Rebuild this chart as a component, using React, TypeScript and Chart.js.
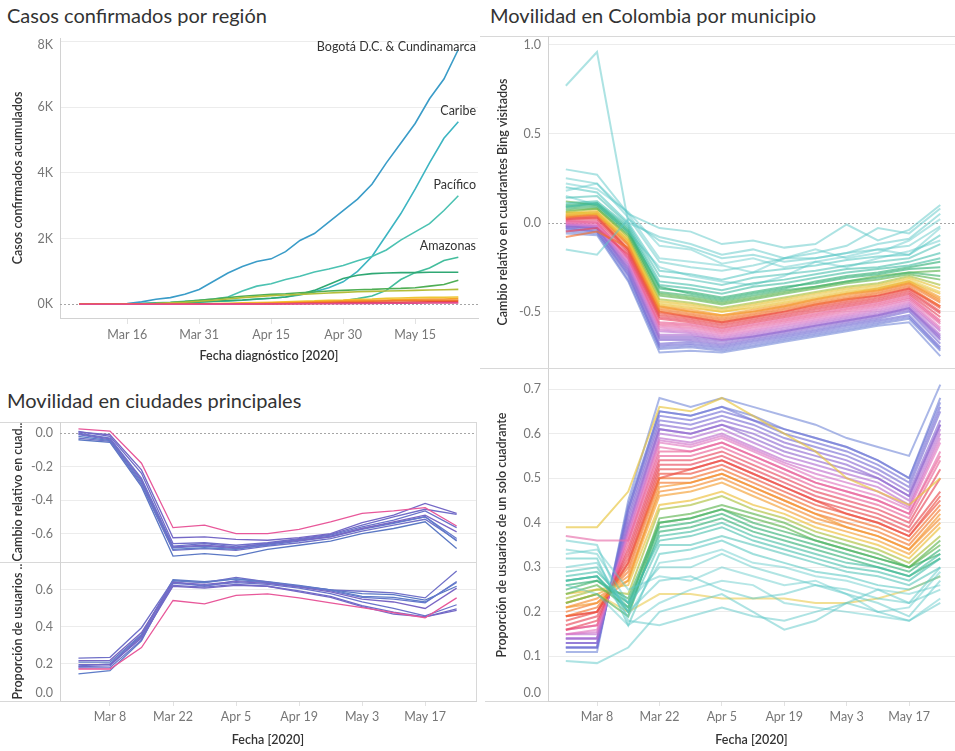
import React, { useEffect, useRef } from "react";
import { Chart, registerables } from "chart.js";

Chart.register(...registerables);

const FONT = "Lato, 'Open Sans', 'DejaVu Sans', sans-serif";

// ---------- Day index: 0 = 1 Mar 2020 ----------
const casosDias = [5, 10, 15, 18, 21, 24, 27, 30, 33, 36, 39, 42, 45, 48, 51, 54, 57, 60, 63, 66, 69, 72, 75, 78, 81, 84];
const casosTicks = [15, 30, 45, 60, 75];
const casosYTicks = [0, 2000, 4000, 6000, 8000];

// cumulative confirmed cases per region
const bogota = [0, 5, 20, 70, 150, 200, 300, 450, 700, 950, 1150, 1300, 1380, 1600, 1940, 2150, 2500, 2850, 3200, 3650, 4300, 4900, 5500, 6250, 6850, 7750];
const caribe = [0, 0, 10, 20, 30, 40, 50, 60, 80, 100, 120, 150, 180, 220, 280, 380, 500, 680, 1000, 1450, 2100, 2750, 3500, 4300, 5050, 5550];
const pacifico = [0, 0, 10, 20, 40, 60, 90, 120, 160, 220, 400, 550, 620, 750, 850, 980, 1070, 1180, 1320, 1450, 1650, 1950, 2200, 2450, 2850, 3300];
const amazonas = [0, 0, 0, 0, 0, 0, 0, 5, 8, 10, 12, 15, 20, 30, 40, 60, 80, 100, 170, 250, 420, 750, 960, 1100, 1330, 1430];
const antioquia = [0, 0, 5, 10, 20, 30, 50, 70, 90, 110, 130, 160, 180, 220, 300, 420, 600, 780, 880, 930, 950, 960, 960, 970, 970, 970];
const santanderes = [0, 0, 5, 10, 30, 50, 80, 120, 160, 200, 240, 270, 300, 320, 350, 370, 400, 420, 440, 450, 470, 480, 500, 550, 600, 730];
const ejeCafetero = [0, 0, 5, 10, 20, 40, 60, 90, 120, 160, 200, 230, 260, 280, 300, 320, 340, 360, 380, 390, 400, 410, 420, 430, 440, 450];
const centroSur = [0, 0, 0, 0, 5, 8, 10, 15, 20, 30, 40, 50, 60, 75, 90, 100, 120, 130, 150, 160, 180, 190, 200, 210, 210, 220];
const llanos = [0, 0, 0, 0, 0, 3, 5, 8, 10, 15, 20, 30, 40, 50, 60, 75, 90, 100, 110, 120, 130, 140, 150, 160, 160, 170];
const tolimaHuila = [0, 0, 0, 0, 0, 0, 2, 4, 6, 8, 10, 15, 20, 30, 40, 50, 60, 70, 80, 90, 100, 105, 110, 115, 120, 120];
const boyaca = [0, 0, 0, 0, 0, 0, 0, 2, 3, 4, 5, 8, 10, 15, 20, 25, 30, 40, 45, 50, 55, 60, 65, 70, 75, 80];
const orinoquia = [0, 0, 0, 0, 0, 0, 0, 0, 1, 2, 3, 4, 5, 7, 10, 12, 15, 18, 20, 25, 28, 30, 33, 36, 40, 40];

const regionNombres = ["Orinoquía", "Boyacá", "Tolima & Huila", "Llanos", "Centro Sur", "Eje Cafetero", "Santanderes", "Antioquia", "Amazonas", "Pacífico", "Caribe", "Bogotá D.C. & Cundinamarca"];
const regionValores = [orinoquia, boyaca, tolimaHuila, llanos, centroSur, ejeCafetero, santanderes, antioquia, amazonas, pacifico, caribe, bogota];
const regionColores = ["#E24B8C", "#E84B3C", "#F27A2C", "#F6A524", "#EEC633", "#B3BD3A", "#4FAE55", "#2FA874", "#43BD9C", "#4CC2B2", "#3DB5C2", "#3A9CC8"];
const regionEtiquetadas = ["Amazonas", "Pacífico", "Caribe", "Bogotá D.C. & Cundinamarca"];

// ---------- Weekly mobility (Bing) ----------
const semanas = [0, 7, 14, 21, 28, 35, 42, 49, 56, 63, 70, 77, 84];
const semanaTicks = [7, 21, 35, 49, 63, 77];

const ciudadesNombre = ["Cartagena", "Barranquilla", "Santa Marta", "Cúcuta", "Bucaramanga", "Pereira", "Medellín", "Cali", "Bogotá"];
const ciudadesColor = ["#E8589A", "#7468C6", "#6F6CC8", "#6A72CA", "#7A66C4", "#6578CC", "#5E7CC8", "#7070C8", "#5B78C4"];
const ciudadesCambio = [
  [0.025, 0.012, -0.18, -0.565, -0.55, -0.6, -0.6, -0.575, -0.53, -0.48, -0.465, -0.445, -0.555],
  [0.005, -0.01, -0.22, -0.625, -0.62, -0.635, -0.64, -0.625, -0.6, -0.535, -0.49, -0.42, -0.48],
  [0.01, -0.02, -0.24, -0.66, -0.655, -0.67, -0.655, -0.63, -0.605, -0.55, -0.5, -0.455, -0.485],
  [0.0, -0.03, -0.27, -0.675, -0.66, -0.68, -0.66, -0.635, -0.61, -0.56, -0.52, -0.465, -0.565],
  [-0.005, -0.035, -0.28, -0.68, -0.67, -0.685, -0.66, -0.64, -0.62, -0.57, -0.53, -0.49, -0.59],
  [-0.01, -0.04, -0.29, -0.685, -0.675, -0.69, -0.67, -0.645, -0.62, -0.575, -0.54, -0.5, -0.63],
  [-0.02, -0.045, -0.3, -0.695, -0.685, -0.695, -0.665, -0.64, -0.615, -0.57, -0.535, -0.5, -0.645],
  [-0.03, -0.05, -0.31, -0.7, -0.69, -0.7, -0.675, -0.655, -0.63, -0.585, -0.55, -0.515, -0.64],
  [-0.04, -0.055, -0.32, -0.735, -0.72, -0.735, -0.695, -0.67, -0.645, -0.6, -0.57, -0.53, -0.69],
];
const ciudadesProporcion = [
  [0.173, 0.173, 0.289, 0.543, 0.525, 0.571, 0.579, 0.557, 0.53, 0.504, 0.477, 0.45, 0.557],
  [0.196, 0.196, 0.34, 0.62, 0.61, 0.625, 0.62, 0.59, 0.56, 0.51, 0.47, 0.455, 0.49],
  [0.186, 0.19, 0.35, 0.625, 0.615, 0.63, 0.62, 0.595, 0.565, 0.515, 0.48, 0.455, 0.498],
  [0.179, 0.18, 0.33, 0.635, 0.625, 0.64, 0.63, 0.61, 0.58, 0.535, 0.5, 0.46, 0.52],
  [0.218, 0.22, 0.37, 0.64, 0.63, 0.645, 0.635, 0.615, 0.59, 0.55, 0.535, 0.5, 0.61],
  [0.19, 0.2, 0.355, 0.645, 0.62, 0.65, 0.64, 0.62, 0.595, 0.56, 0.55, 0.53, 0.646],
  [0.146, 0.164, 0.325, 0.65, 0.64, 0.66, 0.64, 0.62, 0.6, 0.565, 0.56, 0.535, 0.64],
  [0.232, 0.236, 0.396, 0.65, 0.64, 0.668, 0.643, 0.62, 0.6, 0.593, 0.584, 0.557, 0.703],
  [0.21, 0.21, 0.36, 0.655, 0.645, 0.66, 0.645, 0.625, 0.6, 0.58, 0.575, 0.545, 0.62],
];

// representative municipalities (teal -> purple)
const municipiosColor = [
  "rgba(92,200,200,0.5)", "rgba(92,200,200,0.5)", "rgba(92,200,200,0.5)", "rgba(92,200,200,0.45)", "rgba(92,200,200,0.45)",
  "rgba(80,196,192,0.45)", "rgba(80,196,192,0.55)", "rgba(72,192,180,0.55)", "rgba(68,190,172,0.6)", "rgba(64,186,160,0.6)",
  "rgba(92,200,200,0.45)", "rgba(56,178,122,0.65)", "rgba(56,178,122,0.65)", "rgba(70,180,110,0.65)", "rgba(96,182,82,0.65)",
  "rgba(96,182,82,0.65)", "rgba(172,192,62,0.65)",
  "rgba(232,196,60,0.65)", "rgba(232,196,60,0.55)", "rgba(236,190,56,0.65)",
  "rgba(245,160,52,0.65)", "rgba(245,150,48,0.65)", "rgba(244,140,48,0.65)", "rgba(242,122,46,0.65)", "rgba(242,112,46,0.65)",
  "rgba(236,82,64,0.65)", "rgba(236,78,68,0.65)", "rgba(234,74,76,0.65)", "rgba(232,72,90,0.65)", "rgba(232,72,96,0.65)",
  "rgba(234,98,150,0.65)", "rgba(234,98,150,0.65)", "rgba(230,110,170,0.65)", "rgba(226,122,192,0.65)", "rgba(210,116,200,0.65)",
  "rgba(192,112,206,0.65)", "rgba(176,112,210,0.65)", "rgba(148,108,208,0.65)", "rgba(144,108,210,0.65)", "rgba(140,108,210,0.65)",
  "rgba(124,112,212,0.65)", "rgba(118,114,214,0.65)", "rgba(112,118,214,0.6)", "rgba(106,122,212,0.6)", "rgba(100,124,212,0.55)",
];
const municipiosCambio = [
  [0.77, 0.96, 0.0, -0.08, -0.12, -0.18, -0.15, -0.2, -0.17, -0.13, -0.03, -0.06, 0.08],
  [0.3, 0.27, 0.05, -0.03, -0.05, -0.12, -0.1, -0.14, -0.12, -0.01, -0.1, -0.04, 0.1],
  [-0.15, -0.18, 0.02, -0.1, -0.14, -0.2, -0.18, -0.22, -0.2, -0.17, -0.12, -0.09, 0.05],
  [0.18, 0.22, 0.05, -0.2, -0.22, -0.24, -0.28, -0.2, -0.15, -0.2, -0.17, -0.1, 0.02],
  [0.22, 0.19, 0.06, -0.13, -0.15, -0.23, -0.2, -0.25, -0.22, -0.19, -0.15, -0.18, -0.03],
  [0.25, 0.22, 0.03, -0.22, -0.25, -0.27, -0.24, -0.2, -0.2, -0.17, -0.15, -0.13, -0.02],
  [0.2, 0.17, 0.0, -0.27, -0.29, -0.32, -0.28, -0.26, -0.24, -0.21, -0.19, -0.18, -0.07],
  [0.14, 0.15, -0.01, -0.3, -0.32, -0.35, -0.31, -0.29, -0.27, -0.24, -0.22, -0.2, -0.12],
  [0.11, 0.12, -0.02, -0.33, -0.35, -0.38, -0.34, -0.32, -0.29, -0.26, -0.25, -0.22, -0.17],
  [0.09, 0.11, -0.03, -0.35, -0.37, -0.4, -0.36, -0.34, -0.31, -0.28, -0.26, -0.24, -0.2],
  [0.15, 0.1, -0.05, -0.25, -0.3, -0.33, -0.35, -0.3, -0.22, -0.25, -0.2, -0.16, -0.1],
  [0.1, 0.11, -0.04, -0.37, -0.39, -0.42, -0.39, -0.36, -0.34, -0.31, -0.29, -0.26, -0.25],
  [0.09, 0.1, -0.05, -0.36, -0.4, -0.43, -0.4, -0.37, -0.33, -0.3, -0.28, -0.25, -0.22],
  [0.08, 0.09, -0.06, -0.39, -0.41, -0.44, -0.41, -0.38, -0.36, -0.33, -0.31, -0.28, -0.3],
  [0.07, 0.08, -0.07, -0.41, -0.43, -0.46, -0.43, -0.4, -0.37, -0.34, -0.32, -0.29, -0.32],
  [0.12, 0.1, -0.05, -0.4, -0.42, -0.45, -0.42, -0.39, -0.36, -0.33, -0.3, -0.28, -0.27],
  [0.06, 0.08, -0.08, -0.43, -0.45, -0.48, -0.45, -0.42, -0.39, -0.36, -0.34, -0.3, -0.35],
  [0.05, 0.07, -0.09, -0.44, -0.46, -0.49, -0.46, -0.43, -0.4, -0.37, -0.35, -0.31, -0.37],
  [0.04, 0.06, -0.1, -0.45, -0.47, -0.5, -0.47, -0.44, -0.41, -0.38, -0.36, -0.32, -0.39],
  [0.06, 0.05, -0.1, -0.46, -0.48, -0.5, -0.48, -0.45, -0.42, -0.39, -0.37, -0.33, -0.4],
  [0.05, 0.06, -0.11, -0.47, -0.49, -0.52, -0.49, -0.46, -0.43, -0.4, -0.37, -0.33, -0.42],
  [0.04, 0.05, -0.12, -0.47, -0.5, -0.52, -0.5, -0.47, -0.43, -0.4, -0.38, -0.34, -0.43],
  [0.03, 0.05, -0.12, -0.48, -0.5, -0.53, -0.5, -0.47, -0.44, -0.41, -0.38, -0.34, -0.44],
  [0.04, 0.04, -0.13, -0.49, -0.51, -0.54, -0.51, -0.48, -0.45, -0.42, -0.39, -0.35, -0.45],
  [-0.08, -0.05, -0.14, -0.5, -0.52, -0.55, -0.52, -0.49, -0.46, -0.43, -0.4, -0.36, -0.47],
  [0.03, 0.03, -0.15, -0.51, -0.53, -0.56, -0.53, -0.5, -0.47, -0.44, -0.41, -0.37, -0.48],
  [0.03, 0.04, -0.15, -0.5, -0.53, -0.56, -0.53, -0.5, -0.46, -0.43, -0.41, -0.37, -0.47],
  [0.02, 0.03, -0.16, -0.52, -0.54, -0.57, -0.54, -0.51, -0.48, -0.45, -0.42, -0.38, -0.5],
  [0.02, 0.02, -0.17, -0.53, -0.55, -0.58, -0.55, -0.52, -0.49, -0.46, -0.43, -0.39, -0.51],
  [-0.05, -0.03, -0.18, -0.54, -0.56, -0.59, -0.56, -0.53, -0.5, -0.47, -0.44, -0.4, -0.53],
  [0.01, 0.01, -0.19, -0.56, -0.57, -0.6, -0.57, -0.54, -0.51, -0.48, -0.45, -0.41, -0.55],
  [0.01, 0.0, -0.2, -0.57, -0.58, -0.61, -0.58, -0.55, -0.52, -0.49, -0.46, -0.42, -0.56],
  [0.0, 0.0, -0.2, -0.58, -0.59, -0.62, -0.59, -0.56, -0.53, -0.5, -0.47, -0.43, -0.57],
  [0.0, -0.01, -0.21, -0.59, -0.6, -0.63, -0.6, -0.57, -0.54, -0.51, -0.48, -0.44, -0.59],
  [-0.005, -0.015, -0.22, -0.6, -0.61, -0.64, -0.61, -0.58, -0.55, -0.52, -0.49, -0.45, -0.6],
  [-0.01, -0.02, -0.23, -0.61, -0.62, -0.65, -0.62, -0.59, -0.56, -0.53, -0.5, -0.46, -0.61],
  [-0.01, -0.02, -0.24, -0.63, -0.63, -0.66, -0.63, -0.6, -0.57, -0.54, -0.51, -0.47, -0.63],
  [-0.02, -0.03, -0.25, -0.64, -0.64, -0.66, -0.64, -0.61, -0.58, -0.55, -0.52, -0.48, -0.65],
  [-0.02, -0.03, -0.26, -0.65, -0.65, -0.67, -0.64, -0.61, -0.58, -0.55, -0.52, -0.48, -0.64],
  [-0.02, -0.03, -0.27, -0.66, -0.66, -0.68, -0.65, -0.62, -0.59, -0.56, -0.53, -0.49, -0.66],
  [-0.03, -0.04, -0.28, -0.68, -0.67, -0.69, -0.66, -0.63, -0.6, -0.57, -0.54, -0.5, -0.68],
  [-0.04, -0.05, -0.3, -0.69, -0.68, -0.7, -0.67, -0.64, -0.61, -0.58, -0.55, -0.52, -0.7],
  [-0.03, -0.05, -0.29, -0.7, -0.69, -0.71, -0.68, -0.65, -0.62, -0.59, -0.56, -0.53, -0.71],
  [-0.05, -0.06, -0.32, -0.71, -0.7, -0.72, -0.69, -0.66, -0.63, -0.6, -0.57, -0.54, -0.72],
  [-0.06, -0.07, -0.33, -0.73, -0.72, -0.73, -0.7, -0.67, -0.64, -0.61, -0.58, -0.56, -0.75],
];
const municipiosProporcion = [
  [0.09, 0.085, 0.12, 0.2, 0.22, 0.24, 0.2, 0.16, 0.18, 0.22, 0.2, 0.18, 0.22],
  [0.36, 0.35, 0.18, 0.17, 0.19, 0.21, 0.19, 0.18, 0.2, 0.22, 0.25, 0.22, 0.3],
  [0.3, 0.31, 0.2, 0.27, 0.28, 0.25, 0.23, 0.24, 0.26, 0.24, 0.22, 0.19, 0.27],
  [0.33, 0.34, 0.25, 0.28, 0.27, 0.3, 0.28, 0.26, 0.27, 0.24, 0.2, 0.21, 0.29],
  [0.26, 0.24, 0.17, 0.22, 0.25, 0.27, 0.26, 0.22, 0.21, 0.2, 0.19, 0.18, 0.23],
  [0.34, 0.33, 0.22, 0.3, 0.3, 0.33, 0.3, 0.28, 0.26, 0.25, 0.23, 0.22, 0.25],
  [0.32, 0.32, 0.17, 0.33, 0.34, 0.36, 0.33, 0.31, 0.29, 0.28, 0.26, 0.25, 0.28],
  [0.29, 0.3, 0.2, 0.35, 0.35, 0.37, 0.35, 0.33, 0.31, 0.29, 0.28, 0.26, 0.3],
  [0.28, 0.29, 0.22, 0.36, 0.37, 0.39, 0.36, 0.34, 0.32, 0.3, 0.29, 0.27, 0.32],
  [0.27, 0.28, 0.21, 0.37, 0.38, 0.4, 0.37, 0.35, 0.33, 0.31, 0.3, 0.28, 0.33],
  [0.27, 0.28, 0.19, 0.31, 0.32, 0.34, 0.31, 0.3, 0.28, 0.27, 0.25, 0.24, 0.26],
  [0.26, 0.27, 0.22, 0.39, 0.4, 0.42, 0.39, 0.37, 0.35, 0.33, 0.31, 0.29, 0.34],
  [0.27, 0.28, 0.2, 0.38, 0.39, 0.41, 0.38, 0.36, 0.34, 0.32, 0.3, 0.28, 0.32],
  [0.25, 0.27, 0.23, 0.4, 0.41, 0.43, 0.4, 0.38, 0.36, 0.34, 0.32, 0.3, 0.33],
  [0.24, 0.26, 0.21, 0.41, 0.42, 0.44, 0.42, 0.4, 0.37, 0.35, 0.33, 0.3, 0.35],
  [0.22, 0.24, 0.19, 0.4, 0.41, 0.43, 0.41, 0.39, 0.36, 0.34, 0.32, 0.3, 0.36],
  [0.23, 0.25, 0.24, 0.43, 0.44, 0.46, 0.43, 0.41, 0.38, 0.36, 0.34, 0.31, 0.37],
  [0.39, 0.39, 0.47, 0.66, 0.65, 0.68, 0.64, 0.6, 0.56, 0.5, 0.47, 0.44, 0.5],
  [0.22, 0.24, 0.2, 0.24, 0.24, 0.23, 0.23, 0.23, 0.22, 0.22, 0.23, 0.25, 0.28],
  [0.24, 0.25, 0.26, 0.44, 0.45, 0.47, 0.44, 0.42, 0.39, 0.37, 0.35, 0.32, 0.39],
  [0.22, 0.24, 0.27, 0.46, 0.47, 0.49, 0.46, 0.43, 0.4, 0.38, 0.36, 0.33, 0.4],
  [0.21, 0.22, 0.27, 0.48, 0.49, 0.51, 0.48, 0.45, 0.42, 0.39, 0.37, 0.34, 0.42],
  [0.21, 0.23, 0.28, 0.47, 0.48, 0.5, 0.47, 0.44, 0.41, 0.39, 0.37, 0.34, 0.41],
  [0.2, 0.22, 0.29, 0.49, 0.49, 0.51, 0.48, 0.45, 0.42, 0.4, 0.38, 0.35, 0.43],
  [0.19, 0.21, 0.3, 0.5, 0.5, 0.52, 0.49, 0.46, 0.43, 0.41, 0.39, 0.36, 0.44],
  [0.19, 0.2, 0.31, 0.51, 0.51, 0.53, 0.5, 0.47, 0.44, 0.42, 0.4, 0.37, 0.45],
  [0.19, 0.2, 0.31, 0.5, 0.52, 0.54, 0.51, 0.48, 0.45, 0.42, 0.4, 0.37, 0.46],
  [0.18, 0.2, 0.32, 0.52, 0.52, 0.54, 0.51, 0.48, 0.45, 0.43, 0.41, 0.38, 0.47],
  [0.17, 0.19, 0.33, 0.53, 0.53, 0.55, 0.52, 0.49, 0.46, 0.44, 0.42, 0.39, 0.5],
  [0.16, 0.18, 0.34, 0.54, 0.54, 0.56, 0.53, 0.5, 0.47, 0.45, 0.43, 0.4, 0.52],
  [0.16, 0.17, 0.35, 0.55, 0.55, 0.57, 0.54, 0.51, 0.48, 0.46, 0.44, 0.41, 0.54],
  [0.16, 0.17, 0.36, 0.56, 0.56, 0.58, 0.55, 0.52, 0.49, 0.47, 0.45, 0.42, 0.55],
  [0.37, 0.36, 0.36, 0.57, 0.56, 0.58, 0.55, 0.52, 0.49, 0.47, 0.45, 0.42, 0.56],
  [0.15, 0.16, 0.37, 0.58, 0.57, 0.59, 0.56, 0.53, 0.5, 0.48, 0.46, 0.43, 0.58],
  [0.15, 0.155, 0.375, 0.585, 0.575, 0.595, 0.565, 0.535, 0.51, 0.49, 0.47, 0.435, 0.59],
  [0.15, 0.15, 0.38, 0.59, 0.58, 0.6, 0.57, 0.54, 0.52, 0.5, 0.48, 0.44, 0.6],
  [0.14, 0.14, 0.39, 0.6, 0.59, 0.61, 0.58, 0.55, 0.53, 0.51, 0.49, 0.45, 0.61],
  [0.14, 0.14, 0.39, 0.61, 0.6, 0.62, 0.59, 0.56, 0.54, 0.52, 0.5, 0.46, 0.62],
  [0.14, 0.14, 0.4, 0.61, 0.6, 0.62, 0.6, 0.57, 0.55, 0.53, 0.5, 0.46, 0.62],
  [0.13, 0.13, 0.41, 0.62, 0.61, 0.63, 0.61, 0.58, 0.56, 0.54, 0.51, 0.47, 0.63],
  [0.13, 0.13, 0.42, 0.63, 0.62, 0.64, 0.62, 0.59, 0.57, 0.55, 0.52, 0.48, 0.65],
  [0.12, 0.12, 0.43, 0.64, 0.63, 0.65, 0.63, 0.6, 0.58, 0.56, 0.53, 0.49, 0.66],
  [0.12, 0.12, 0.43, 0.65, 0.64, 0.66, 0.63, 0.61, 0.59, 0.57, 0.54, 0.5, 0.67],
  [0.12, 0.12, 0.44, 0.65, 0.64, 0.66, 0.64, 0.61, 0.59, 0.57, 0.54, 0.5, 0.68],
  [0.11, 0.11, 0.45, 0.68, 0.66, 0.68, 0.66, 0.64, 0.62, 0.59, 0.57, 0.55, 0.71],
];

// ---------- helpers ----------
function etiquetaDia(d: number): string {
  if (d < 31) return `Mar ${d + 1}`;
  if (d < 61) return `Apr ${d - 30}`;
  return `May ${d - 60}`;
}

const GRID = "#ececec";
const AXIS = "#d2d2d2";
const TICK_COLOR = "#777";
const TITLE_COLOR = "#333";

const zeroLinePlugin = {
  id: "zeroLine",
  beforeDatasetsDraw(chart: any) {
    const y = chart.scales.y;
    if (!y || y.min > 0 || y.max < 0) return;
    const py = Math.round(y.getPixelForValue(0)) + 0.5;
    const { left, right } = chart.chartArea;
    const ctx = chart.ctx;
    ctx.save();
    ctx.strokeStyle = "#a6a6a6";
    ctx.lineWidth = 1;
    ctx.setLineDash([2, 2]);
    ctx.beginPath();
    ctx.moveTo(left, py);
    ctx.lineTo(right, py);
    ctx.stroke();
    ctx.restore();
  },
};

function makeYLabels(fmt: (v: number) => string) {
  return {
    id: "yLabelsClamp",
    afterDraw(chart: any) {
      const s = chart.scales.y;
      if (!s) return;
      const { top, bottom } = chart.chartArea;
      const ctx = chart.ctx;
      ctx.save();
      ctx.font = `12.5px ${FONT}`;
      ctx.fillStyle = TICK_COLOR;
      ctx.textAlign = "right";
      ctx.textBaseline = "middle";
      for (const t of s.ticks) {
        let py = s.getPixelForValue(t.value);
        py = Math.min(Math.max(py, top + 7), bottom - 8);
        ctx.fillText(fmt(t.value), s.right - 7, py);
      }
      ctx.restore();
    },
  };
}

function makeEtiquetas(nombres: string[]) {
  return {
    id: "etiquetasRegion",
    afterDatasetsDraw(chart: any) {
      const y = chart.scales.y;
      const { top, right } = chart.chartArea;
      const ctx = chart.ctx;
      ctx.save();
      ctx.font = `12.5px ${FONT}`;
      ctx.fillStyle = "#333";
      ctx.textAlign = "right";
      ctx.textBaseline = "middle";
      chart.data.datasets.forEach((ds: any) => {
        if (!nombres.includes(ds.label)) return;
        const last = ds.data[ds.data.length - 1].y;
        const py = Math.max(y.getPixelForValue(last) - 11, top + 9);
        ctx.fillText(ds.label, right - 2, py);
      });
      ctx.restore();
    },
  };
}

function yScale(o: { min: number; max: number; ticks: number[]; width: number; title: string; titleX: number; zero?: boolean }) {
  return {
    type: "linear",
    position: "left",
    min: o.min,
    max: o.max,
    afterBuildTicks: (s: any) => {
      s.ticks = o.ticks.map((v) => ({ value: v }));
    },
    afterFit: (s: any) => {
      s.width = o.width;
    },
    ticks: { display: false },
    grid: {
      color: (c: any) => (o.zero && c.tick && Math.abs(c.tick.value) < 1e-9 ? "rgba(0,0,0,0)" : GRID),
      drawTicks: false,
    },
    border: { display: true, color: AXIS },
    title: {
      display: true,
      text: o.title,
      color: TITLE_COLOR,
      font: { family: FONT, size: 12.5, weight: "600" },
      padding: { top: o.titleX - 7.5, bottom: 0 },
    },
  };
}

function xScale(o: { min: number; max: number; ticks: number[]; display: boolean; height?: number; title?: string; tickLen?: number; pad?: number; titlePad?: number }) {
  return {
    type: "linear",
    position: "bottom",
    min: o.min,
    max: o.max,
    display: o.display,
    afterBuildTicks: (s: any) => {
      s.ticks = o.ticks.map((v) => ({ value: v }));
    },
    afterFit: (s: any) => {
      if (o.height !== undefined) s.height = o.height;
    },
    ticks: {
      color: TICK_COLOR,
      font: { family: FONT, size: 12.5 },
      padding: o.pad ?? 3,
      maxRotation: 0,
      autoSkip: false,
      callback: (v: any) => etiquetaDia(Number(v)),
    },
    grid: { drawOnChartArea: false, drawTicks: true, tickLength: o.tickLen ?? 5, tickColor: "#e2e2e2" },
    border: { display: true, color: AXIS },
    title: {
      display: !!o.title,
      text: o.title || "",
      color: TITLE_COLOR,
      font: { family: FONT, size: 12.5, weight: "600" },
      padding: { top: 0, bottom: o.titlePad ?? 4 },
    },
  };
}

function lineDatasets(xs: number[], rows: number[][], colors: string[], names: string[], width: number) {
  return rows.map((vals, i) => ({
    label: names[i],
    data: xs.map((x, j) => ({ x, y: vals[j] })),
    borderColor: colors[i],
    backgroundColor: colors[i],
    borderWidth: width,
    pointRadius: 0,
    tension: 0,
    fill: false,
  }));
}

const commonPlugins = { legend: { display: false }, tooltip: { enabled: false } };

const fmtK = (v: number) => `${Math.round(v / 1000)}K`;
const fmt1 = (v: number) => (Math.abs(v) < 1e-9 ? "0.0" : v.toFixed(1));

export default function App() {
  const refCasos = useRef<HTMLCanvasElement>(null);
  const refCiudadesA = useRef<HTMLCanvasElement>(null);
  const refCiudadesB = useRef<HTMLCanvasElement>(null);
  const refMuniA = useRef<HTMLCanvasElement>(null);
  const refMuniB = useRef<HTMLCanvasElement>(null);

  useEffect(() => {
    Chart.defaults.font.family = FONT;
    const charts: Chart[] = [];

    // --- Casos confirmados por región ---
    const casosSets = lineDatasets(casosDias, regionValores, regionColores, regionNombres, 1.6);
    charts.push(
      new Chart(refCasos.current!, {
        type: "line",
        data: { datasets: casosSets as any },
        plugins: [zeroLinePlugin, makeYLabels(fmtK), makeEtiquetas(regionEtiquetadas)],
        options: {
          responsive: false,
          animation: false,
          events: [],
          layout: { padding: { top: 8, right: 2, left: 0, bottom: 0 } },
          plugins: commonPlugins,
          scales: {
            x: xScale({ min: 1, max: 88.1, ticks: casosTicks, display: true, height: 57, title: "Fecha diagnóstico [2020]", tickLen: 6, pad: 3, titlePad: 11.5 }),
            y: yScale({ min: -420, max: 8100, ticks: casosYTicks, width: 60, title: "Casos confirmados acumulados", titleX: 18, zero: true }),
          },
        },
      } as any)
    );

    // --- Ciudades principales: cambio relativo ---
    charts.push(
      new Chart(refCiudadesA.current!, {
        type: "line",
        data: { datasets: lineDatasets(semanas, ciudadesCambio, ciudadesColor, ciudadesNombre, 1.3) as any },
        plugins: [zeroLinePlugin, makeYLabels(fmt1)],
        options: {
          responsive: false,
          animation: false,
          events: [],
          layout: { padding: { top: 0, right: 4, left: 0, bottom: 0 } },
          plugins: commonPlugins,
          scales: {
            x: xScale({ min: -4.1, max: 88.3, ticks: semanaTicks, display: false }),
            y: yScale({ min: -0.77, max: 0.066, ticks: [0, -0.2, -0.4, -0.6], width: 60, title: "Cambio relativo en cuad..", titleX: 18, zero: true }),
          },
        },
      } as any)
    );

    // --- Ciudades principales: proporción ---
    charts.push(
      new Chart(refCiudadesB.current!, {
        type: "line",
        data: { datasets: lineDatasets(semanas, ciudadesProporcion, ciudadesColor, ciudadesNombre, 1.3) as any },
        plugins: [makeYLabels(fmt1)],
        options: {
          responsive: false,
          animation: false,
          events: [],
          layout: { padding: { top: 0, right: 4, left: 0, bottom: 0 } },
          plugins: commonPlugins,
          scales: {
            x: xScale({ min: -4.1, max: 88.3, ticks: semanaTicks, display: true, height: 50, title: "Fecha [2020]", tickLen: 5, pad: 3.5, titlePad: 3.5 }),
            y: yScale({ min: 0, max: 0.751, ticks: [0, 0.2, 0.4, 0.6], width: 60, title: "Proporción de usuarios ..", titleX: 18 }),
          },
        },
      } as any)
    );

    const muniNombres = municipiosCambio.map((_, i) => `Municipio ${i + 1}`);

    // --- Municipios: cambio relativo ---
    charts.push(
      new Chart(refMuniA.current!, {
        type: "line",
        data: { datasets: lineDatasets(semanas, municipiosCambio, municipiosColor, muniNombres, 2) as any },
        plugins: [zeroLinePlugin, makeYLabels(fmt1)],
        options: {
          responsive: false,
          animation: false,
          events: [],
          layout: { padding: { top: 0, right: 0, left: 0, bottom: 0 } },
          plugins: commonPlugins,
          scales: {
            x: xScale({ min: -4.0, max: 87.3, ticks: semanaTicks, display: false }),
            y: yScale({ min: -0.817, max: 1.05, ticks: [1, 0.5, 0, -0.5], width: 68, title: "Cambio relativo en cuadrantes Bing visitados", titleX: 23, zero: true }),
          },
        },
      } as any)
    );

    // --- Municipios: proporción ---
    charts.push(
      new Chart(refMuniB.current!, {
        type: "line",
        data: { datasets: lineDatasets(semanas, municipiosProporcion, municipiosColor, muniNombres, 2) as any },
        plugins: [makeYLabels(fmt1)],
        options: {
          responsive: false,
          animation: false,
          events: [],
          layout: { padding: { top: 1, right: 0, left: 0, bottom: 0 } },
          plugins: commonPlugins,
          scales: {
            x: xScale({ min: -4.0, max: 87.3, ticks: semanaTicks, display: true, height: 50, title: "Fecha [2020]", tickLen: 5, pad: 3.5, titlePad: 3.5 }),
            y: yScale({ min: 0, max: 0.745, ticks: [0, 0.1, 0.2, 0.3, 0.4, 0.5, 0.6, 0.7], width: 68, title: "Proporción de usuarios de un solo cuadrante", titleX: 22 }),
          },
        },
      } as any)
    );

    return () => charts.forEach((c) => c.destroy());
  }, []);

  const line = (left: number, top: number, width: number, height: number) => (
    <div style={{ position: "absolute", left, top, width, height, background: "#d8d8d8" }} />
  );
  const titleStyle: React.CSSProperties = { position: "absolute", fontSize: 20, lineHeight: "26px", color: "#333", whiteSpace: "nowrap" };
  const cv = (left: number, top: number, w: number, h: number): React.CSSProperties => ({ position: "absolute", left, top, width: w, height: h, display: "block" });

  return (
    <div style={{ position: "absolute", left: 0, top: 0, width: 955, height: 751, background: "#fff", fontFamily: FONT, overflow: "hidden" }}>
      {line(0, 422, 477, 1)}
      {line(0, 562, 477, 1)}
      {line(0, 701, 477, 1)}
      {line(476, 422, 1, 280)}
      {line(480, 36, 475, 1)}
      {line(480, 368, 475, 1)}
      {line(485, 701, 470, 1)}

      <div style={{ ...titleStyle, left: 7, top: 2 }}>Casos confirmados por región</div>
      <div style={{ ...titleStyle, left: 490, top: 2 }}>Movilidad en Colombia por municipio</div>
      <div style={{ ...titleStyle, left: 7, top: 387 }}>Movilidad en ciudades principales</div>

      <canvas ref={refCasos} width={480} height={345} style={cv(0, 30, 480, 345)} />
      <canvas ref={refCiudadesA} width={480} height={140} style={cv(0, 422, 480, 140)} />
      <canvas ref={refCiudadesB} width={480} height={189} style={cv(0, 562, 480, 189)} />
      <canvas ref={refMuniA} width={475} height={332} style={cv(480, 36, 475, 332)} />
      <canvas ref={refMuniB} width={475} height={383} style={cv(480, 368, 475, 383)} />
    </div>
  );
}
